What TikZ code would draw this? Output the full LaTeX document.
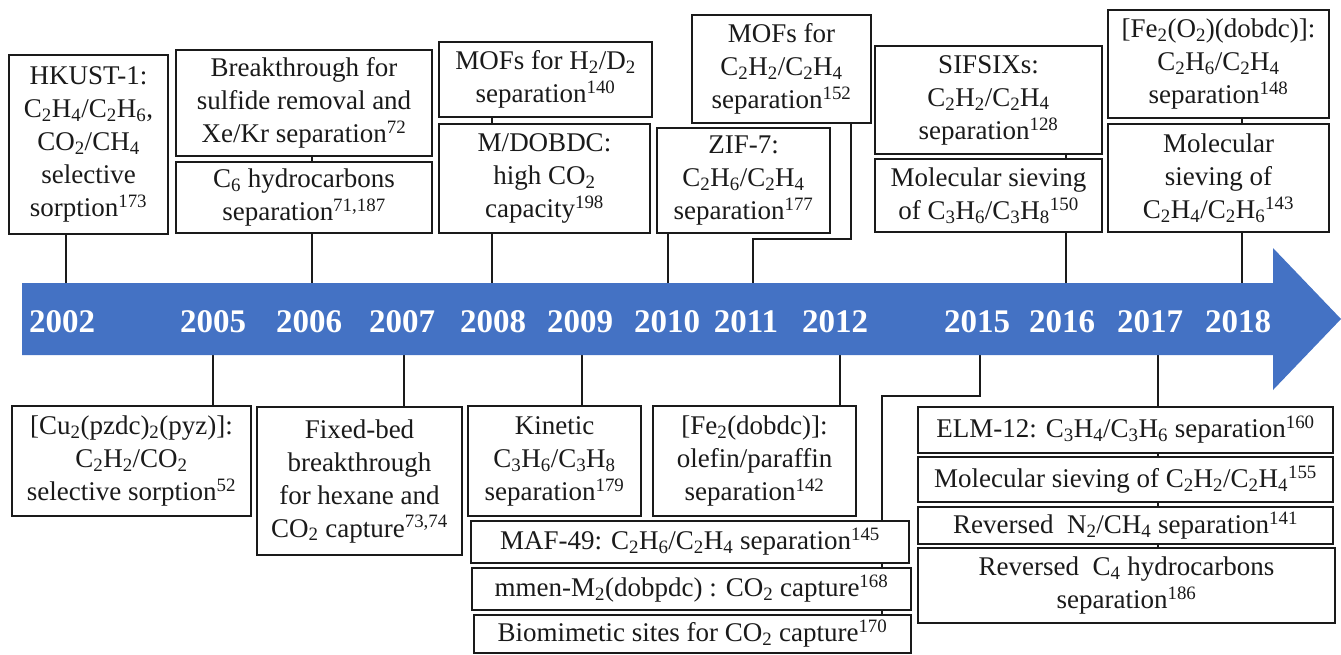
\documentclass[tikz,border=0pt]{standalone}
\usepackage{fontspec}
\setmainfont{Liberation Serif}
\usetikzlibrary{backgrounds}
\definecolor{band}{HTML}{4472C4}
\definecolor{ink}{HTML}{1A1A1A}
\newcommand{\sbs}[1]{\textsubscript{#1}}
\newcommand{\sps}[1]{\textsuperscript{#1}}
\tikzset{
  box/.style={draw=ink, line width=1.6pt, fill=white, align=center, inner sep=0pt,
    text=ink, font=\fontsize{27}{33}\selectfont},
  yr/.style={text=white, font=\fontsize{33}{36}\selectfont\bfseries, inner sep=0pt},
  conn/.style={draw=ink, line width=1.6pt},
}
\begin{document}
\begin{tikzpicture}[x=1pt,y=-1pt]
\useasboundingbox (0,0) rectangle (1341,654);
% timeline arrow
\fill[band] (22,283) -- (1273,283) -- (1273,248) -- (1341,319) -- (1273,390) -- (1273,355) -- (22,355) -- cycle;
% years
\foreach \yy/\xx in {2002/62,2005/213,2006/309,2007/402,2008/493,2009/580,2010/667,2011/746,2012/835,2015/977,2016/1062,2017/1150,2018/1238}
  \node[yr] (yr\yy) at (\xx,322) {\yy};
% tick coordinates on the band
\coordinate (k2002) at (66,283);
\coordinate (k2006) at (312,283);
\coordinate (k2008) at (492,283);
\coordinate (k2010) at (668,283);
\coordinate (k2011) at (753,283);
\coordinate (k2016) at (1066,283);
\coordinate (k2018) at (1242,283);
\coordinate (k2005) at (213,355);
\coordinate (k2007) at (404,355);
\coordinate (k2009) at (582,355);
\coordinate (k2012) at (840,355);
\coordinate (k2015) at (980,355);
\coordinate (k2017) at (1158,355);
\coordinate (f11) at (851,239);
\coordinate (b15) at (882,396);
% top boxes
\node[box, minimum width=159pt, minimum height=179pt] (A) at (88.5,144.5)
  {HKUST-1:\\ C\sbs{2}H\sbs{4}/C\sbs{2}H\sbs{6},\\ CO\sbs{2}/CH\sbs{4}\\ selective\\ sorption\sps{173}};
\node[box, minimum width=256pt, minimum height=106pt] (B) at (304,103)
  {Breakthrough for\\ sulfide removal and\\ Xe/Kr separation\sps{72}};
\node[box, minimum width=256pt, minimum height=71pt] (C) at (304,197.5)
  {C\sbs{6} hydrocarbons\\ separation\sps{71,187}};
\node[box, minimum width=213pt, minimum height=75pt] (D) at (545.5,79.5)
  {MOFs for H\sbs{2}/D\sbs{2}\\ separation\sps{140}};
\node[box, minimum width=211pt, minimum height=109pt] (E) at (544.5,178.5)
  {M/DOBDC:\\ high CO\sbs{2}\\ capacity\sps{198}};
\node[box, minimum width=179pt, minimum height=108pt] (F) at (781.5,69)
  {MOFs for\\ C\sbs{2}H\sbs{2}/C\sbs{2}H\sbs{4}\\ separation\sps{152}};
\node[box, minimum width=173pt, minimum height=105pt] (G) at (743.5,180.5)
  {ZIF-7:\\ C\sbs{2}H\sbs{6}/C\sbs{2}H\sbs{4}\\ separation\sps{177}};
\node[box, minimum width=227pt, minimum height=108pt] (H) at (988.5,100)
  {SIFSIXs:\\ C\sbs{2}H\sbs{2}/C\sbs{2}H\sbs{4}\\ separation\sps{128}};
\node[box, minimum width=227pt, minimum height=73pt] (I) at (988.5,195.5)
  {Molecular sieving\\ of C\sbs{3}H\sbs{6}/C\sbs{3}H\sbs{8}\sps{150}};
\node[box, minimum width=221pt, minimum height=108pt] (J) at (1218.5,64)
  {[Fe\sbs{2}(O\sbs{2})(dobdc)]:\\ C\sbs{2}H\sbs{6}/C\sbs{2}H\sbs{4}\\ separation\sps{148}};
\node[box, minimum width=221pt, minimum height=108pt] (K) at (1218.5,178)
  {Molecular\\ sieving of\\ C\sbs{2}H\sbs{4}/C\sbs{2}H\sbs{6}\sps{143}};
% bottom boxes
\node[box, minimum width=239pt, minimum height=110pt] (L) at (131.5,461)
  {[Cu\sbs{2}(pzdc)\sbs{2}(pyz)]:\\ C\sbs{2}H\sbs{2}/CO\sbs{2}\\ selective sorption\sps{52}};
\node[box, minimum width=205pt, minimum height=148pt] (M) at (359.5,481)
  {Fixed-bed\\ breakthrough\\ for hexane and\\ CO\sbs{2} capture\sps{73,74}};
\node[box, minimum width=173pt, minimum height=110pt] (N) at (554.5,461)
  {Kinetic\\ C\sbs{3}H\sbs{6}/C\sbs{3}H\sbs{8}\\ separation\sps{179}};
\node[box, minimum width=203pt, minimum height=110pt] (O) at (754.5,461)
  {[Fe\sbs{2}(dobdc)]:\\ olefin/paraffin\\ separation\sps{142}};
\node[box, minimum width=438pt, minimum height=42pt] (P) at (690,542)
  {MAF-49: C\sbs{2}H\sbs{6}/C\sbs{2}H\sbs{4} separation\sps{145}};
\node[box, minimum width=439pt, minimum height=42pt] (Q) at (691.5,589)
  {mmen-M\sbs{2}(dobpdc) : CO\sbs{2} capture\sps{168}};
\node[box, minimum width=437pt, minimum height=38pt] (R) at (692.5,634)
  {Biomimetic sites for CO\sbs{2} capture\sps{170}};
\node[box, minimum width=415pt, minimum height=46pt] (S) at (1125.5,430)
  {ELM-12: C\sbs{3}H\sbs{4}/C\sbs{3}H\sbs{6} separation\sps{160}};
\node[box, minimum width=415pt, minimum height=45pt] (T) at (1125.5,479.5)
  {Molecular sieving of C\sbs{2}H\sbs{2}/C\sbs{2}H\sbs{4}\sps{155}};
\node[box, minimum width=415pt, minimum height=37pt] (U) at (1125.5,525.5)
  {Reversed\ \ N\sbs{2}/CH\sbs{4} separation\sps{141}};
\node[box, minimum width=417pt, minimum height=75pt] (V) at (1126.5,585.5)
  {Reversed\ \ C\sbs{4} hydrocarbons\\ separation\sps{186}};
% connectors
\begin{scope}[on background layer]
\draw[conn] (k2002) -- (k2002 |- A.south);
\draw[conn] (k2006) -- (k2006 |- B.south);
\draw[conn] (k2008) -- (k2008 |- D.south);
\draw[conn] (k2010) -- (k2010 |- G.south);
\draw[conn] (k2011) -- (k2011 |- f11) -- (f11) -- (f11 |- F.south);
\draw[conn] (k2016) -- (k2016 |- H.south);
\draw[conn] (k2018) -- (k2018 |- J.south);
\draw[conn] (k2005) -- (k2005 |- L.north);
\draw[conn] (k2007) -- (k2007 |- M.north);
\draw[conn] (k2009) -- (k2009 |- N.north);
\draw[conn] (k2012) -- (k2012 |- O.north);
\draw[conn] (k2015) -- (k2015 |- b15) -- (b15) -- (b15 |- R.south);
\draw[conn] (k2017) -- (k2017 |- V.north);
\end{scope}
\end{tikzpicture}
\end{document}
